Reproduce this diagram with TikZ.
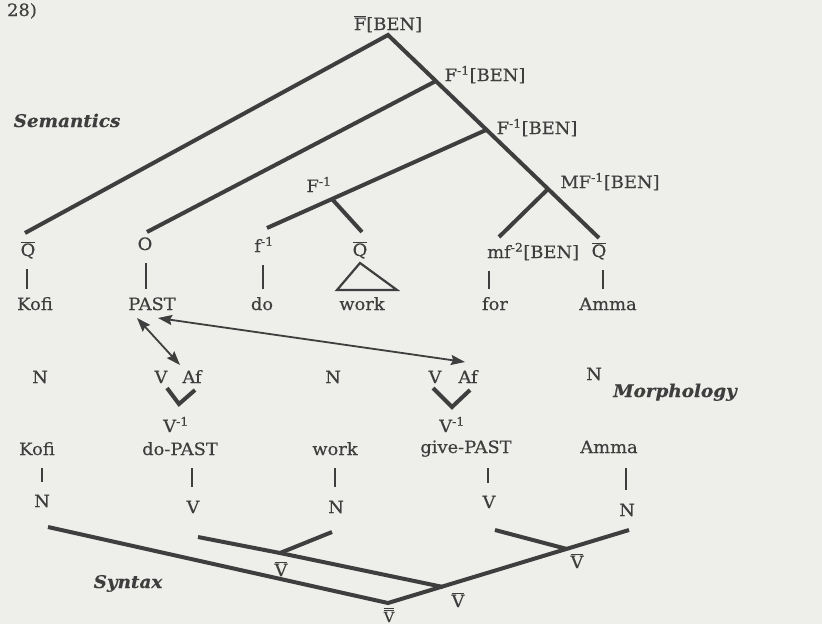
\documentclass[tikz,border=0pt]{standalone}
\usepackage{fontspec}
\setmainfont{DejaVu Serif}[FakeStretch=1.05,FakeBold=0.4]
\usepackage{xcolor}
\usepackage{tikz}
\usetikzlibrary{arrows.meta}
\definecolor{inkCol}{RGB}{62,62,62}
\definecolor{paperCol}{RGB}{238,238,235}
\newcommand{\Ovl}[1]{\ensuremath{\overline{\mbox{#1}}}}
\newcommand{\Dovl}[1]{\ensuremath{\overline{\overline{\mbox{#1}}}}}
\newcommand{\Inv}[1]{\textsuperscript{-#1}}
\tikzset{
  lab/.style={text=inkCol, inner sep=1pt, anchor=base, font=\fontsize{17}{19}\selectfont},
  hd/.style={text=inkCol, inner sep=1pt, anchor=base, font=\fontsize{17.5}{19}\selectfont\bfseries\itshape},
  br/.style={inkCol, line width=4pt},
  bar/.style={inkCol, line width=2.4pt},
  tri/.style={inkCol, line width=2.2pt, line join=miter},
  link/.style={{Stealth[length=14pt,width=10pt,inset=2pt]}-{Stealth[length=14pt,width=10pt,inset=2pt]},
               inkCol, line width=1.8pt},
}

\begin{document}
\begin{tikzpicture}[x=1pt,y=-1pt]
  \fill[paperCol] (0,0) rectangle (822,624);
  \useasboundingbox (0,0) rectangle (822,624);

  % headings
  \node[lab] (exNum) at (22,16) {28)};
  \node[hd] (hSem) at (67,127) {Semantics};
  \node[hd] (hMor) at (675,397) {Morphology};
  \node[hd] (hSyn) at (128,588) {Syntax};

  % semantics
  \coordinate (sF)  at (388,35);
  \coordinate (sF1) at (436,81);
  \coordinate (sF2) at (486,130);
  \coordinate (sMF) at (547,190);
  \coordinate (sf)  at (332,199);
  \node[lab] (tF)   at (388,30)  {\Ovl{F}[BEN]};
  \node[lab] (tF1)  at (485,81)  {F\Inv{1}[BEN]};
  \node[lab] (tF2)  at (537,134) {F\Inv{1}[BEN]};
  \node[lab] (tMF)  at (610,188) {MF\Inv{1}[BEN]};
  \node[lab] (tf)   at (319,192) {F\Inv{1}};

  \node[lab] (qKofi) at (28,256)  {\Ovl{Q}};
  \node[lab] (oPast) at (145,250) {O};
  \node[lab] (fDo)   at (264,252) {f\Inv{1}};
  \node[lab] (qWork) at (360,256) {\Ovl{Q}};
  \node[lab, anchor=base west] (mfFor) at (486,258) {mf\Inv{2}[BEN]};
  \node[lab] (qAmma) at (599,257) {\Ovl{Q}};

  \node[lab] (wKofi) at (35,310)  {Kofi};
  \node[lab] (wPast) at (152,310) {PAST};
  \node[lab] (wDo)   at (262,310) {do};
  \node[lab] (wWork) at (362,310) {work};
  \node[lab] (wFor)  at (495,310) {for};
  \node[lab] (wAmma) at (608,310) {Amma};

  \draw[br] ([shift={(-3,-23)}]qKofi.base) -- (sF) -- ([shift={(0,-19)}]qAmma.base);
  \draw[br] (sF1) -- ([shift={(2,-18)}]oPast.base);
  \draw[br] (sF2) -- (sf) -- ([shift={(3,-24)}]fDo.base);
  \draw[br] (sf) -- ([shift={(2,-24)}]qWork.base);
  \draw[br] (sMF) -- ([shift={(13,-21)}]mfFor.base west);

  % lexical links
  \draw[bar] ([shift={(-1,13)}]qKofi.base) -- ([shift={(-1,-21)}]qKofi.base |- wKofi.base);
  \draw[bar] ([shift={(1,13)}]oPast.base) -- ([shift={(1,-21)}]oPast.base |- wPast.base);
  \draw[bar] ([shift={(1,-21)}]wDo.base) -- ([shift={(1,13)}]wDo.base |- fDo.base);
  \draw[bar] ([shift={(-6,-21)}]wFor.base) -- ([shift={(-6,13)}]wFor.base |- mfFor.base);
  \draw[bar] ([shift={(4,13)}]qAmma.base) -- ([shift={(4,-21)}]qAmma.base |- wAmma.base);
  \draw[tri] ([shift={(0,7)}]qWork.base) -- ([shift={(-25,-20)}]wWork.base)
    -- ([shift={(35,-20)}]wWork.base) -- cycle;

  % morphology
  \node[lab] (mN1)  at (40,383)  {N};
  \node[lab] (mV1)  at (161,383) {V};
  \node[lab] (mAf1) at (192,383) {Af};
  \node[lab] (mN2)  at (333,383) {N};
  \node[lab] (mV2)  at (435,383) {V};
  \node[lab] (mAf2) at (468,383) {Af};
  \node[lab] (mN3)  at (594,380) {N};

  \coordinate (vx1) at (179,404);
  \coordinate (vx2) at (452,407);
  \node[lab] (vs1) at (176,432) {V\Inv{1}};
  \node[lab] (vs2) at (452,432) {V\Inv{1}};
  \draw[br] ([shift={(6,5)}]mV1.base) -- (vx1) -- ([shift={(3,7)}]mAf1.base);
  \draw[br] ([shift={(-2,5)}]mV2.base) -- (vx2) -- ([shift={(2,7)}]mAf2.base);

  \node[lab] (mKofi) at (37,455)  {Kofi};
  \node[lab] (mDo)   at (180,455) {do-PAST};
  \node[lab] (mWork) at (335,455) {work};
  \node[lab] (mGive) at (466,453) {give-PAST};
  \node[lab] (mAmma) at (609,453) {Amma};

  % PAST <-> affixes
  \draw[link] ([shift={(-15,8)}]wPast.base) -- ([shift={(-12,-18)}]mAf1.base);
  \draw[link] ([shift={(6,8)}]wPast.base) -- ([shift={(-3,-21)}]mAf2.base);

  % syntax
  \node[lab] (sN1) at (42,507)  {N};
  \node[lab] (sV1) at (193,513) {V};
  \node[lab] (sN2) at (336,513) {N};
  \node[lab] (sV2) at (489,508) {V};
  \node[lab] (sN3) at (627,516) {N};

  \draw[bar] ([shift={(0,-25)}]sN1.base) -- ([shift={(0,13)}]sN1.base |- mKofi.base);
  \draw[bar] ([shift={(-1,-26)}]sV1.base) -- ([shift={(-1,13)}]sV1.base |- mDo.base);
  \draw[bar] ([shift={(-1,-26)}]sN2.base) -- ([shift={(-1,13)}]sN2.base |- mWork.base);
  \draw[bar] ([shift={(-1,-25)}]sV2.base) -- ([shift={(-1,15)}]sV2.base |- mGive.base);
  \draw[bar] ([shift={(-1,-26)}]sN3.base) -- ([shift={(-1,15)}]sN3.base |- mAmma.base);

  \coordinate (root) at (388,603);
  \coordinate (jVV)  at (443,587);
  \coordinate (jDW)  at (280,553);
  \coordinate (jGA)  at (567,549);
  \draw[br] ([shift={(6,20)}]sN1.base) -- (root) -- ([shift={(2,14)}]sN3.base);
  \draw[br] ([shift={(5,24)}]sV1.base) -- (jDW) -- (jVV);
  \draw[br] ([shift={(-4,19)}]sN2.base) -- (jDW);
  \draw[br] ([shift={(6,22)}]sV2.base) -- (jGA);

  \node[lab] (lDW)   at (281,576) {\Ovl{V}};
  \node[lab] (lVV)   at (458,607) {\Ovl{V}};
  \node[lab] (lGA)   at (577,568) {\Ovl{V}};
  \node[lab, font=\fontsize{14}{16}\selectfont] (lRoot) at (389,622) {\Dovl{V}};
\end{tikzpicture}
\end{document}
